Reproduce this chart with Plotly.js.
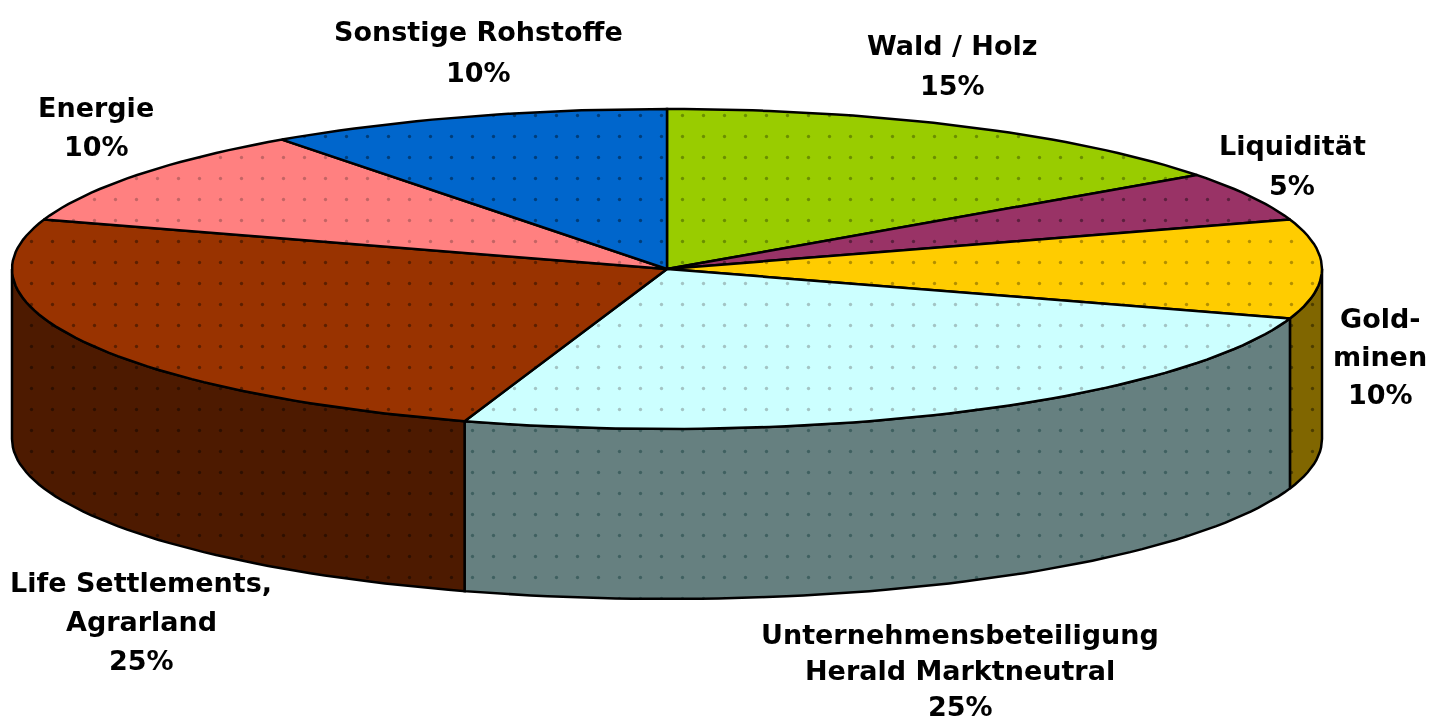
<!DOCTYPE html>
<html>
<head>
<meta charset="utf-8">
<script src="https://cdn.plot.ly/plotly-3.0.1.min.js"></script>
<style>html,body{margin:0;padding:0;background:#fff;overflow:hidden}#chart{width:1443px;height:720px;filter:blur(0.6px)}</style>
</head>
<body>
<div id="chart"></div>
<script>
const categories = ["Wald / Holz", "Liquidität", "Gold-minen", "Unternehmensbeteiligung Herald Marktneutral", "Life Settlements, Agrarland", "Energie", "Sonstige Rohstoffe"];
const values = [15, 5, 10, 25, 25, 10, 10];
const topColors = ["#99CC00", "#993366", "#FFCC00", "#CCFFFF", "#993300", "#FF8080", "#0066CC"];
const sideColors = ["#4D6600", "#4D1A33", "#806600", "#668080", "#4D1A00", "#804040", "#003366"];
const topDots = ["#6a8f00", "#5c1f3d", "#b38f00", "#a3c4c4", "#5c1f00", "#c46464", "#003d7a"];
const sideDots = ["#334400", "#330f22", "#4d3d00", "#3f6060", "#2e0f00", "#552a2a", "#002244"];
const labelLines = [["Wald / Holz"], ["Liquidität"], ["Gold-", "minen"], ["Unternehmensbeteiligung", "Herald Marktneutral"], ["Life Settlements,", "Agrarland"], ["Energie"], ["Sonstige Rohstoffe"]];
const labelX = [952, 1292, 1380, 960, 141, 96, 478];
const labelY = [45, 145, 318, 634, 582, 107, 31];
const lineStep = [40, 40, 38, 36, 39, 39, 41];

const cx = 667, cy = 269, rx = 655, ry = 160, depth = 170;
const total = values.reduce((a, b) => a + b, 0);
const arc = (from, to, dy) => {
  const xs = [], ys = [], n = Math.max(2, Math.ceil((to - from) / 1.5));
  for (let i = 0; i <= n; i++) {
    const a = (from + (to - from) * i / n) * Math.PI / 180;
    xs.push(cx + rx * Math.sin(a));
    ys.push(cy - ry * Math.cos(a) + dy);
  }
  return [xs, ys];
};
const poly = (xs, ys, i, fill, dot) => ({
  type: "scatter", mode: "lines", x: xs, y: ys, fill: "toself",
  fillcolor: fill,
  fillpattern: {shape: ".", size: 21, solidity: 0.02, fgcolor: dot, bgcolor: fill, fgopacity: 1},
  line: {color: "#000", width: 2.5}, hoverinfo: "text", text: categories[i], showlegend: false
});

const walls = [], tops = [];
let start = 0;
values.forEach((v, i) => {
  const end = start + v / total * 360;
  const a = Math.max(start, 90), b = Math.min(end, 270);
  if (b > a) {
    const [tx, ty] = arc(a, b, 0), [bx, by] = arc(a, b, depth);
    walls.push(poly(tx.concat(bx.reverse(), tx[0]), ty.concat(by.reverse(), ty[0]), i, sideColors[i], sideDots[i]));
  }
  const [x, y] = arc(start, end, 0);
  tops.push(poly([cx].concat(x, cx), [cy].concat(y, cy), i, topColors[i], topDots[i]));
  start = end;
});

const annotations = [];
categories.forEach((c, i) => {
  labelLines[i].concat([values[i] + "%"]).forEach((t, k) => annotations.push({
    x: labelX[i], y: labelY[i] + k * lineStep[i], xref: "x", yref: "y", text: t, showarrow: false,
    xanchor: "center", yanchor: "middle",
    font: {family: "DejaVu Sans, Verdana, sans-serif", size: 27, color: "#000", weight: 700}
  }));
});

Plotly.newPlot("chart", walls.concat(tops), {
  width: 1443, height: 720, margin: {l: 0, r: 0, t: 0, b: 0},
  paper_bgcolor: "#fff", plot_bgcolor: "#fff", showlegend: false,
  xaxis: {range: [0, 1443], visible: false, fixedrange: true},
  yaxis: {range: [720, 0], visible: false, fixedrange: true},
  annotations
}, {displayModeBar: false, staticPlot: true});
</script>
</body>
</html>
